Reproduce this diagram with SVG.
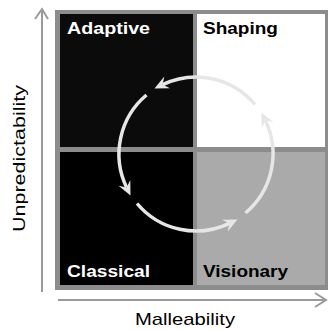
<svg xmlns="http://www.w3.org/2000/svg" width="328" height="330" viewBox="0 0 328 330">
  <style>
    .lbl { font-family: "Liberation Sans", Arial, sans-serif; font-size: 16.5px; font-weight: bold; }
    .axl { font-family: "Liberation Sans", Arial, sans-serif; font-size: 17px; fill: #000; }
    .axis { stroke: #9a9a9a; stroke-width: 2; fill: none; }
    .cyc { stroke: #e6e6e6; stroke-width: 3.5; fill: none; marker-end: url(#ah); }
  </style>
  <defs>
    <marker id="ah" markerUnits="userSpaceOnUse" markerWidth="18" markerHeight="16" viewBox="-16 -8 18 16" refX="-9" refY="0" orient="auto">
      <path d="M0,0 L-14,-6.5 L-9,0 L-14,6.5 Z" fill="#e6e6e6"/>
    </marker>
  </defs>
  <rect width="328" height="330" fill="#fff"/>
  <g id="frame">
    <rect x="55" y="10" width="275" height="280" fill="#8c8c8c"/>
  </g>
  <g id="adaptive">
    <rect x="60" y="14" width="133" height="133" fill="#0b0b0b"/>
    <text class="lbl" x="67" y="34" fill="#fff" textLength="83" lengthAdjust="spacingAndGlyphs">Adaptive</text>
  </g>
  <g id="shaping">
    <rect x="197" y="14" width="128" height="133" fill="#fff"/>
    <text class="lbl" x="203" y="34" fill="#000" textLength="75" lengthAdjust="spacingAndGlyphs">Shaping</text>
  </g>
  <g id="classical">
    <rect x="60" y="152" width="133" height="133" fill="#000"/>
    <text class="lbl" x="67" y="277" fill="#fff" textLength="83" lengthAdjust="spacingAndGlyphs">Classical</text>
  </g>
  <g id="visionary">
    <rect x="197" y="152" width="128" height="133" fill="#aaaaaa"/>
    <text class="lbl" x="203" y="277" fill="#000" textLength="85" lengthAdjust="spacingAndGlyphs">Visionary</text>
  </g>
  <g id="axes">
    <path class="axis" d="M42,292 L42,9 M35,19 L42,9 L48,19"/>
    <path class="axis" d="M58,300 L326,300 M315,293 L326,300 L315,307"/>
    <text class="axl" x="135" y="325" textLength="100" lengthAdjust="spacingAndGlyphs">Malleability</text>
    <text class="axl" transform="translate(25,158.5) rotate(-90)" text-anchor="middle" x="0" y="0" textLength="147" lengthAdjust="spacingAndGlyphs">Unpredictability</text>
  </g>
  <g id="connectors">
    <path class="cyc" d="M254.98,104.50 A77,77 0 0 0 162.6,84.6"/>
    <path class="cyc" d="M146.50,95.02 A77,77 0 0 0 126.6,187.4"/>
    <path class="cyc" d="M137.02,203.50 A77,77 0 0 0 229.4,223.4"/>
    <path class="cyc" d="M245.50,212.98 A77,77 0 0 0 265.4,120.6"/>
  </g>
</svg>
